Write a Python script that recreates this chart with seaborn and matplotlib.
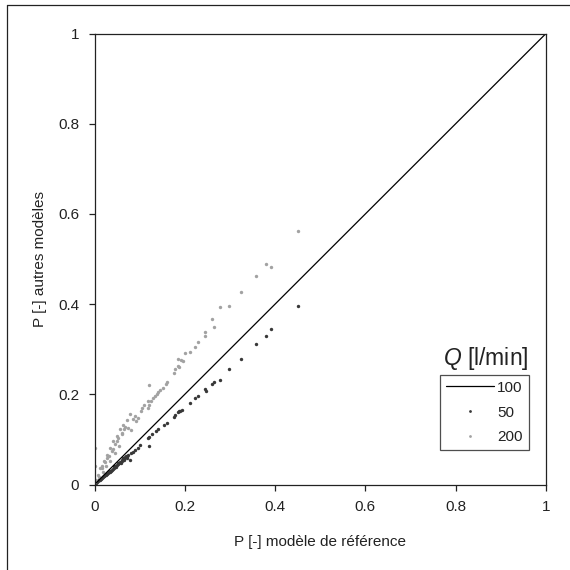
import matplotlib
matplotlib.use("Agg")
import matplotlib.pyplot as plt
import seaborn as sns
import pandas as pd
from matplotlib.lines import Line2D

# ---------------- data ----------------
x100 = [0.0, 1.0]
y100 = [0.0, 1.0]

x50 = [0.450, 0.391, 0.380, 0.357, 0.324, 0.298, 0.278, 0.264, 0.261, 0.245,
       0.248, 0.229, 0.222, 0.212, 0.193, 0.190, 0.188, 0.185, 0.178, 0.175,
       0.160, 0.154, 0.141, 0.136, 0.127, 0.121, 0.118, 0.121, 0.101, 0.097,
       0.090, 0.079, 0.085, 0.080, 0.075, 0.072, 0.068, 0.065, 0.062, 0.060,
       0.057, 0.055, 0.052, 0.050, 0.048, 0.045, 0.043, 0.040, 0.038, 0.036,
       0.034, 0.032, 0.030, 0.028, 0.026, 0.024, 0.022, 0.020, 0.018, 0.016,
       0.014, 0.012, 0.010, 0.008, 0.006, 0.004, 0.002, 0.047, 0.058, 0.066,
       0.035, 0.025, 0.070, 0.044, 0.053, 0.063, 0.073]
y50 = [0.395, 0.345, 0.330, 0.312, 0.278, 0.256, 0.232, 0.227, 0.222, 0.211,
       0.207, 0.196, 0.192, 0.181, 0.166, 0.164, 0.162, 0.160, 0.154, 0.149,
       0.137, 0.133, 0.122, 0.118, 0.111, 0.105, 0.102, 0.085, 0.088, 0.081,
       0.077, 0.055, 0.073, 0.069, 0.066, 0.062, 0.060, 0.057, 0.054, 0.051,
       0.050, 0.047, 0.045, 0.043, 0.042, 0.040, 0.037, 0.035, 0.033, 0.031,
       0.030, 0.028, 0.026, 0.024, 0.023, 0.021, 0.019, 0.018, 0.016, 0.014,
       0.012, 0.011, 0.009, 0.007, 0.005, 0.004, 0.002, 0.038, 0.047, 0.055,
       0.028, 0.020, 0.064, 0.041, 0.048, 0.058, 0.059]

x200 = [0.450, 0.391, 0.380, 0.357, 0.324, 0.298, 0.278, 0.261, 0.264, 0.245,
        0.244, 0.229, 0.222, 0.212, 0.200, 0.184, 0.191, 0.195, 0.185, 0.188,
        0.178, 0.175, 0.161, 0.158, 0.152, 0.144, 0.141, 0.138, 0.134, 0.130,
        0.126, 0.121, 0.119, 0.121, 0.118, 0.102, 0.079, 0.097, 0.093, 0.075,
        0.066, 0.080, 0.062, 0.050, 0.038, 0.027, 0.016, 0.000, 0.000, 0.071,
        0.064, 0.056, 0.049, 0.042, 0.034, 0.027, 0.020, 0.012, 0.068, 0.060,
        0.053, 0.046, 0.040, 0.032, 0.024, 0.017, 0.008, 0.004, 0.002, 0.034,
        0.045, 0.055, 0.026, 0.018, 0.010, 0.085, 0.090, 0.110, 0.105]
y200 = [0.563, 0.482, 0.490, 0.463, 0.427, 0.396, 0.393, 0.367, 0.350, 0.339,
        0.330, 0.317, 0.305, 0.294, 0.291, 0.278, 0.277, 0.274, 0.262, 0.260,
        0.255, 0.248, 0.228, 0.223, 0.214, 0.210, 0.205, 0.200, 0.196, 0.192,
        0.186, 0.221, 0.185, 0.177, 0.170, 0.163, 0.157, 0.148, 0.140, 0.126,
        0.124, 0.120, 0.111, 0.096, 0.074, 0.059, 0.040, 0.081, 0.041, 0.144,
        0.133, 0.122, 0.107, 0.096, 0.081, 0.066, 0.052, 0.036, 0.128, 0.115,
        0.102, 0.090, 0.078, 0.064, 0.050, 0.037, 0.020, 0.010, 0.005, 0.052,
        0.070, 0.085, 0.040, 0.028, 0.016, 0.145, 0.152, 0.176, 0.170]

ticks = [0, 0.2, 0.4, 0.6, 0.8, 1]
tick_labels = ["0", "0.2", "0.4", "0.6", "0.8", "1"]
legend_labels = ["100", "50", "200"]

# ---------------- style ----------------
sns.set_theme(style="white")
plt.rcParams["font.family"] = ["Liberation Sans", "DejaVu Sans"]
plt.rcParams["mathtext.fontset"] = "custom"
plt.rcParams["mathtext.rm"] = "Liberation Sans"
plt.rcParams["mathtext.it"] = "Liberation Sans:italic"

FS = 11
W = 570.0
L, R, T, B = 94.5, 546.0, 33.5, 484.5
fig = plt.figure(figsize=(5.7, 5.7), dpi=100)
ax = fig.add_axes([L / W, 1 - B / W, (R - L) / W, (B - T) / W])

df100 = pd.DataFrame({"x": x100, "y": y100})
df50 = pd.DataFrame({"x": x50, "y": y50})
df200 = pd.DataFrame({"x": x200, "y": y200})

sns.lineplot(data=df100, x="x", y="y", ax=ax, color="black", linewidth=0.9,
             legend=False)
sns.scatterplot(data=df50, x="x", y="y", ax=ax, color="#383838", s=6,
                linewidth=0, legend=False)
sns.scatterplot(data=df200, x="x", y="y", ax=ax, color="#a2a2a2", s=6,
                linewidth=0, legend=False)

ax.set_xlim(0, 1)
ax.set_ylim(0, 1)
ax.set_xticks(ticks)
ax.set_yticks(ticks)
ax.set_xticklabels(tick_labels)
ax.set_yticklabels(tick_labels)
ax.tick_params(axis="both", direction="out", length=4.5, width=0.9,
               pad=6.5, labelsize=FS, colors="#222222", bottom=True, left=True)
for sp in ax.spines.values():
    sp.set_color("#222222")
    sp.set_linewidth(0.9)

ax.set_xlabel("P [-] modèle de référence", fontsize=FS, labelpad=15,
              color="#222222")
ax.set_ylabel("P [-] autres modèles", fontsize=FS, labelpad=8,
              color="#222222")

handles = [
    Line2D([0], [0], color="black", linewidth=0.9),
    Line2D([0], [0], linestyle="none", marker="o", markersize=2,
           markerfacecolor="#383838", markeredgewidth=0),
    Line2D([0], [0], linestyle="none", marker="o", markersize=2,
           markerfacecolor="#a2a2a2", markeredgewidth=0),
]
ax_w, ax_h = R - L, B - T
leg = ax.legend(handles, legend_labels, loc="upper right",
                bbox_to_anchor=((528.7 - L) / ax_w, (B - 374.7) / ax_h),
                borderaxespad=0, fontsize=FS, frameon=True, fancybox=False,
                handlelength=3.15, handletextpad=0.18, labelspacing=0.7,
                borderpad=0.4, edgecolor="#222222")
leg.get_frame().set_linewidth(0.9)
for t in leg.get_texts():
    t.set_color("#222222")

ax.text((528.7 - L) / ax_w, (B - 358) / ax_h, r"$Q$ [l/min]",
        transform=ax.transAxes, ha="right", va="center", fontsize=16.5,
        color="#222222")

# outer frame (top and left edges visible)
fig.add_artist(Line2D([7.3 / W, 1.0], [1 - 4.5 / W, 1 - 4.5 / W],
                      transform=fig.transFigure, color="#222222", linewidth=0.9))
fig.add_artist(Line2D([7.3 / W, 7.3 / W], [1 - 4.5 / W, 0.0],
                      transform=fig.transFigure, color="#222222", linewidth=0.9))

fig.savefig("out.png", dpi=100)
